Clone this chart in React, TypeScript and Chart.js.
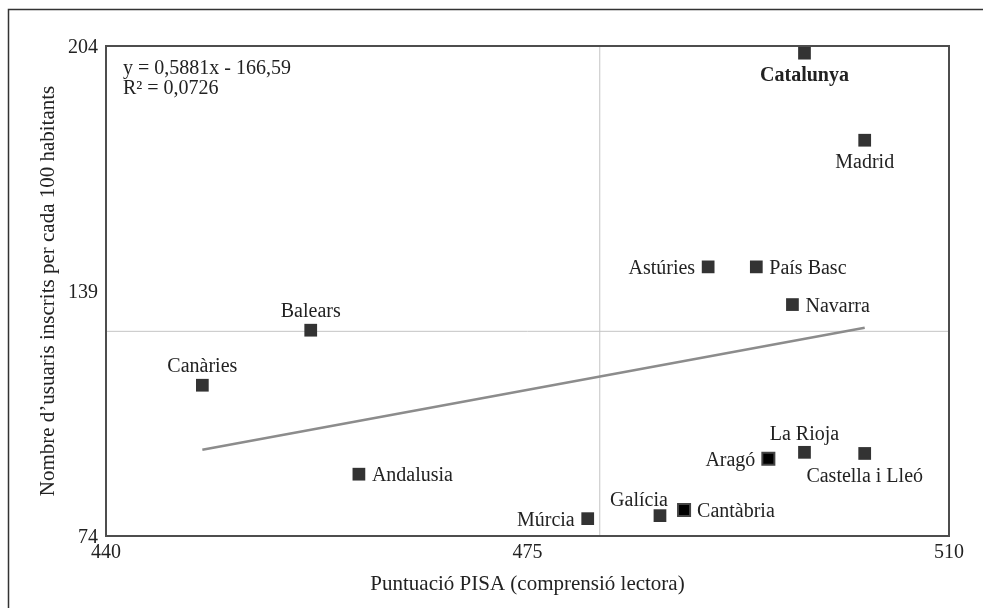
import React, { useEffect, useRef } from "react";
import { Chart, registerables } from "chart.js";
Chart.register(...registerables);

const regions = [
  "Catalunya", "Madrid", "Astúries", "País Basc", "Navarra", "Balears", "Canàries",
  "Andalusia", "Múrcia", "Galícia", "Cantàbria", "Aragó", "La Rioja", "Castella i Lleó",
];
const pisaScores = [498, 503, 490, 494, 497, 457, 448, 461, 480, 486, 488, 495, 498, 503];
const usersPer100 = [202.1, 179, 145.4, 145.4, 135.4, 128.6, 114, 90.4, 78.6, 79.4, 80.9, 94.5, 96.2, 95.9];
const highlighted = ["Aragó", "Cantàbria"];
const xTicks = [440, 475, 510];
const yTicks = [74, 139, 204];
const meanPisa = 481;
const meanUsers = 128.3;
const trendSlope = 0.5881;
const trendIntercept = -166.59;
const trendRange = [448, 503];
const equationLines = ["y = 0,5881x - 166,59", "R² = 0,0726"];
const xTitle = "Puntuació PISA (comprensió lectora)";
const yTitle = "Nombre d’usuaris inscrits per cada 100 habitants";

// label placement (style only)
const labelPlacement = [
  "below", "below", "left", "right", "right", "above", "above",
  "right", "left", "aboveLeft", "right", "left", "above", "below",
];

const FONT = "'Liberation Serif', 'Times New Roman', serif";
const TEXT = "#222222";

export default function App() {
  const ref = useRef<HTMLCanvasElement>(null);
  useEffect(() => {
    if (!ref.current) return;
    const points = pisaScores.map((x, i) => ({ x, y: usersPer100[i] }));
    const isHi = regions.map((r) => highlighted.includes(r));

    const decor = {
      id: "decor",
      afterDraw(chart: any) {
        const { ctx, chartArea } = chart;
        const { left, top, right, bottom } = chartArea;
        ctx.save();
        // outer frame (top and left)
        ctx.strokeStyle = "#333";
        ctx.lineWidth = 1.5;
        ctx.beginPath();
        ctx.moveTo(8.5, 608);
        ctx.lineTo(8.5, 9.5);
        ctx.lineTo(983, 9.5);
        ctx.stroke();
        // plot box
        ctx.strokeStyle = "#4d4d4d";
        ctx.lineWidth = 2;
        ctx.strokeRect(left, top, right - left, bottom - top);

        // point labels
        const meta = chart.getDatasetMeta(0);
        ctx.fillStyle = TEXT;
        meta.data.forEach((el: any, i: number) => {
          const p = labelPlacement[i];
          ctx.font = (i === 0 ? "bold " : "") + "20px " + FONT;
          ctx.textBaseline = "middle";
          let x = el.x, y = el.y + 2;
          if (p === "below") { ctx.textAlign = "center"; y += 21; }
          else if (p === "above") { ctx.textAlign = "center"; y -= 20; }
          else if (p === "left") { ctx.textAlign = "right"; x -= 13; }
          else if (p === "right") { ctx.textAlign = "left"; x += 13; }
          else { ctx.textAlign = "center"; x -= 21; y -= 17; }
          ctx.fillText(regions[i], x, y);
        });

        // equation
        ctx.font = "20px " + FONT;
        ctx.textAlign = "left";
        ctx.textBaseline = "middle";
        equationLines.forEach((t, k) => ctx.fillText(t, left + 17, top + 23 + k * 20));

        // axis titles
        ctx.font = "21px " + FONT;
        ctx.textAlign = "center";
        ctx.fillText(xTitle, (left + right) / 2, 584);
        ctx.translate(48, (top + bottom) / 2);
        ctx.rotate(-Math.PI / 2);
        ctx.fillText(yTitle, 0, 0);
        ctx.restore();
      },
    };

    const chart = new Chart(ref.current, {
      type: "scatter",
      data: {
        datasets: [
          {
            data: points,
            pointStyle: "rect",
            pointRadius: isHi.map((h) => (h ? 8.5 : 9)),
            pointBackgroundColor: isHi.map((h) => (h ? "#000" : "#333")),
            pointBorderColor: isHi.map((h) => (h ? "#444" : "#333")),
            pointBorderWidth: isHi.map((h) => (h ? 2 : 0)),
            showLine: false,
          } as any,
          {
            type: "line",
            data: trendRange.map((x) => ({ x, y: trendSlope * x + trendIntercept })),
            borderColor: "#8c8c8c",
            borderWidth: 2.5,
            pointRadius: 0,
          } as any,
          {
            type: "line",
            data: [{ x: meanPisa, y: yTicks[0] }, { x: meanPisa, y: yTicks[yTicks.length - 1] }],
            borderColor: "#c4c4c4",
            borderWidth: 1,
            pointRadius: 0,
          } as any,
          {
            type: "line",
            data: [{ x: xTicks[0], y: meanUsers }, { x: xTicks[xTicks.length - 1], y: meanUsers }],
            borderColor: "#c4c4c4",
            borderWidth: 1,
            pointRadius: 0,
          } as any,
        ],
      },
      options: {
        responsive: false,
        animation: false,
        layout: { padding: { top: 46, right: 34, left: 0, bottom: 0 } },
        plugins: { legend: { display: false }, tooltip: { enabled: false } },
        scales: {
          x: {
            type: "linear",
            min: xTicks[0],
            max: xTicks[xTicks.length - 1],
            grid: { display: false, drawTicks: false },
            border: { display: false },
            afterBuildTicks: (s: any) => { s.ticks = xTicks.map((v) => ({ value: v })); },
            afterFit: (s: any) => { s.height = 72; },
            ticks: { font: { family: FONT, size: 20 }, color: TEXT, padding: 5, maxRotation: 0 },
          },
          y: {
            type: "linear",
            min: yTicks[0],
            max: yTicks[yTicks.length - 1],
            grid: { display: false, drawTicks: false },
            border: { display: false },
            afterBuildTicks: (s: any) => { s.ticks = yTicks.map((v) => ({ value: v })); },
            afterFit: (s: any) => { s.width = 106; },
            ticks: { font: { family: FONT, size: 20 }, color: TEXT, padding: 8, labelOffset: 2 },
          },
        },
      } as any,
      plugins: [decor],
    });
    return () => chart.destroy();
  }, []);

  return (
    <div style={{ position: "fixed", left: 0, top: 0, width: 983, height: 608, background: "#fff" }}>
      <canvas ref={ref} width={983} height={608} style={{ display: "block" }} />
    </div>
  );
}
